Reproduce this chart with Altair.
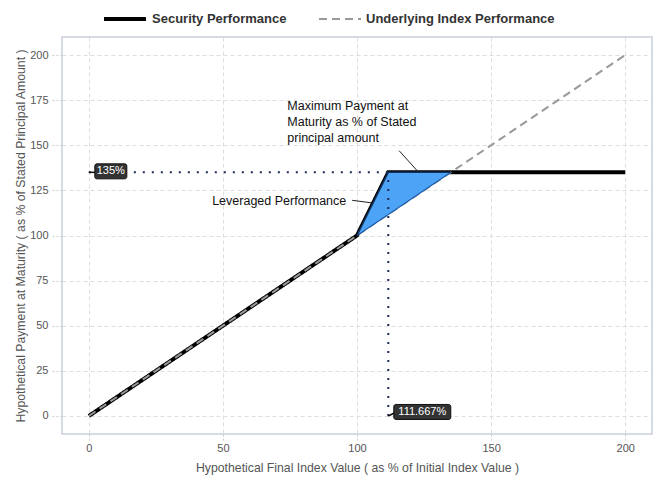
import altair as alt
import pandas as pd

# ---- data ----
series_names = ["Security Performance", "Underlying Index Performance"]
sec_x = [0, 100, 111.667, 200]
sec_y = [0, 100, 135, 135]
idx_x = [0, 200]
idx_y = [0, 200]
tri_x = [100, 111.667, 135]
tri_upper = [100, 135, 135]
tri_lower = [100, 111.667, 135]
cap_level = 135
cap_x = 111.667
x_ticks = [0, 50, 100, 150, 200]
y_ticks = [0, 25, 50, 75, 100, 125, 150, 175, 200]

sec_df = pd.DataFrame({"x": sec_x, "y": sec_y, "series": series_names[0]})
idx_df = pd.DataFrame({"x": idx_x, "y": idx_y, "series": series_names[1]})
tri_df = pd.DataFrame({"x": tri_x, "hi": tri_upper, "lo": tri_lower})
hdot_df = pd.DataFrame({"x": [0], "x2": [cap_x], "y": [cap_level]})
vdot_df = pd.DataFrame({"x": [cap_x], "y": [0], "y2": [cap_level]})
lab_y_df = pd.DataFrame({"x": [0], "y": [cap_level], "t": ["135%"]})
lab_x_df = pd.DataFrame({"x": [cap_x], "y": [0], "t": ["111.667%"]})

ann_max_df = pd.DataFrame({"x": [74], "y": [175],
                           "t": ["Maximum Payment at\nMaturity as % of Stated\nprincipal amount"]})
ann_max_line = pd.DataFrame({"x": [115.7], "y": [147], "x2": [123], "y2": [cap_level]})
ann_lev_df = pd.DataFrame({"x": [96], "y": [119], "t": ["Leveraged Performance"]})
ann_lev_line = pd.DataFrame({"x": [98.2], "y": [119.5], "x2": [106], "y2": [118]})

FONT = "Liberation Sans"
xscale = alt.Scale(domain=[-10, 210], nice=False, zero=False)
yscale = alt.Scale(domain=[-10, 210], nice=False, zero=False)

X = alt.X("x:Q", scale=xscale,
          axis=alt.Axis(values=x_ticks, title="Hypothetical Final Index Value ( as % of Initial Index Value )"))
Y = alt.Y("y:Q", scale=yscale,
          axis=alt.Axis(values=y_ticks, title="Hypothetical Payment at Maturity ( as % of Stated Principal Amount )"))

color = alt.Color("series:N", scale=alt.Scale(domain=series_names, range=["#000000", "#999999"]),
                  legend=alt.Legend(title=None))
dash = alt.StrokeDash("series:N", scale=alt.Scale(domain=series_names, range=[[1, 0], [8, 5]]),
                      legend=alt.Legend(title=None))
width = alt.StrokeWidth("series:N", scale=alt.Scale(domain=series_names, range=[4, 2]),
                        legend=alt.Legend(title=None))

sec = alt.Chart(sec_df).mark_line().encode(x=X, y=Y, color=color, strokeDash=dash, strokeWidth=width)
idx = alt.Chart(idx_df).mark_line().encode(x="x:Q", y="y:Q", color=color, strokeDash=dash, strokeWidth=width)

tri = alt.Chart(tri_df).mark_area(color="#4da3f5", opacity=1, line=False).encode(x="x:Q", y="hi:Q", y2="lo:Q")
tri_edge = alt.Chart(tri_df).mark_line(color="#1d5fae", strokeWidth=1.2).encode(x="x:Q", y="lo:Q")
tri_top = alt.Chart(tri_df).mark_line(color="#12335f", strokeWidth=1.5).encode(x="x:Q", y="hi:Q")

dotstyle = dict(color="#1c2a55", strokeWidth=2, strokeDash=[2, 7])
hdot = alt.Chart(hdot_df).mark_rule(**dotstyle).encode(x="x:Q", x2="x2:Q", y="y:Q")
vdot = alt.Chart(vdot_df).mark_rule(**dotstyle).encode(x="x:Q", y="y:Q", y2="y2:Q")

def tag(df, box_w, dx, dy, lx, ly):
    lead = alt.Chart(df).mark_rule(color="#111", strokeWidth=1.5, x2Offset=lx, y2Offset=ly).encode(
        x="x:Q", y="y:Q", x2="x:Q", y2="y:Q")
    box = alt.Chart(df).mark_rect(color="#333333", stroke="#111111", strokeWidth=1, cornerRadius=2,
                                  width=box_w, height=15, xOffset=dx, yOffset=dy).encode(x="x:Q", y="y:Q")
    txt = alt.Chart(df).mark_text(color="white", font=FONT, fontSize=11, dx=dx, dy=dy).encode(
        x="x:Q", y="y:Q", text="t:N")
    return [lead, box, txt]

ann_max = alt.Chart(ann_max_df).mark_text(align="left", baseline="top", font=FONT, fontSize=12.5,
                                          color="#111", lineBreak="\n", lineHeight=16).encode(
    x="x:Q", y="y:Q", text="t:N")
ann_max_l = alt.Chart(ann_max_line).mark_rule(color="#222", strokeWidth=1).encode(
    x="x:Q", y="y:Q", x2="x2:Q", y2="y2:Q")
ann_lev = alt.Chart(ann_lev_df).mark_text(align="right", baseline="middle", font=FONT, fontSize=12.5,
                                          color="#111").encode(x="x:Q", y="y:Q", text="t:N")
ann_lev_l = alt.Chart(ann_lev_line).mark_rule(color="#222", strokeWidth=1).encode(
    x="x:Q", y="y:Q", x2="x2:Q", y2="y2:Q")

layers = [sec, idx, tri, tri_edge, tri_top, hdot, vdot, ann_max, ann_max_l, ann_lev, ann_lev_l]
layers += tag(lab_y_df, 32, 22, -1, 6, 0)
layers += tag(lab_x_df, 57, 34, -4, 6, -3)

chart = alt.layer(*layers).resolve_scale(color="shared").properties(
    width=590, height=397, autosize="none",
    padding={"left": 62, "top": 37, "right": 19, "bottom": 69},
).configure_view(
    stroke="#c9ced9", strokeWidth=1.5
).configure_axis(
    labelFont=FONT, titleFont=FONT, labelFontSize=11, titleFontSize=12.25,
    labelColor="#555555", titleColor="#555555", titleFontWeight="normal",
    grid=True, gridColor="#dddddd", gridDash=[4, 3], gridWidth=1,
    domain=False, tickColor="#cccccc", tickDash=[2, 2],
).configure_axisX(
    tickSize=6, labelPadding=2, titlePadding=8
).configure_axisY(
    tickSize=10, labelPadding=4, titlePadding=2
).configure_legend(
    orient="none", legendX=40, legendY=-41, direction="horizontal",
    labelFont=FONT, labelFontSize=13, labelFontWeight="bold", labelColor="#333333",
    symbolType="stroke", symbolSize=1764, columnPadding=28, labelLimit=400,
)

chart.save("out.html", embed_options={"renderer": "svg", "actions": False})
